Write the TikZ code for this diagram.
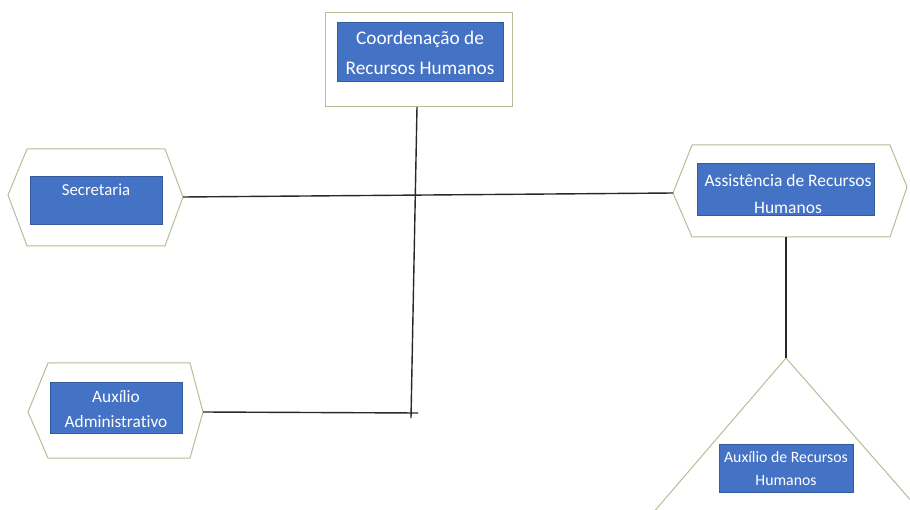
\documentclass[tikz,border=0pt]{standalone}
\usepackage{fontspec}
\setmainfont{Carlito}[Ligatures=CommonOff]
\definecolor{boxblue}{RGB}{68,114,196}
\definecolor{outline}{RGB}{178,192,150}
\definecolor{conn}{RGB}{40,40,40}
\begin{document}
\begin{tikzpicture}[x=1pt,y=-1pt,
  shell/.style={draw=outline,line width=1pt,fill=white},
  bluebox/.style={fill=boxblue,draw=boxblue!80!black,line width=0.3pt},
  lbl/.style={text=white,align=center,inner sep=0pt},
  link/.style={draw=conn,line width=1.4pt}]
\useasboundingbox (0,0) rectangle (910,510);
\clip (0,0) rectangle (910,510);
\fill[white] (0,0) rectangle (910,510);
% Coordenação
\draw[shell] (325,13) rectangle (512,107);
\fill[bluebox] (337,22) rectangle (503,81);
\node[lbl,font=\fontsize{19.3}{30}\selectfont] (coord) at (420,53) {Coordenação de\\Recursos Humanos};
% Secretaria
\draw[shell] (8,195) -- (27,149) -- (165,149) -- (183,197) -- (165,246) -- (27,246) -- cycle;
\fill[bluebox] (30,176) rectangle (162,224);
\node[lbl,font=\fontsize{16.8}{20}\selectfont] (sec) at (96,190) {Secretaria};
% Assistência
\draw[shell] (673,193) -- (692,145) -- (890,145) -- (907,187) -- (890,237) -- (692,237) -- cycle;
\fill[bluebox] (697,163) rectangle (874,215);
\node[lbl,font=\fontsize{17.5}{27}\selectfont] (assist) at (788,194) {Assistência de Recursos\\Humanos};
% Auxílio Administrativo
\draw[shell] (28,412) -- (48,363) -- (190,363) -- (203,412) -- (190,458) -- (48,458) -- cycle;
\fill[bluebox] (50,382) rectangle (182,433);
\node[lbl,font=\fontsize{17.3}{25}\selectfont] (auxadm) at (116,409) {Auxílio\\Administrativo};
% Auxílio de Recursos Humanos (triangle)
\draw[shell] (786,358) -- (640,528) -- (935,528) -- cycle;
\fill[bluebox] (719,444) rectangle (853,492);
\node[lbl,font=\fontsize{15.8}{23}\selectfont] (auxrh) at (786,469) {Auxílio de Recursos\\Humanos};
% connector endpoints
\coordinate (coordB) at (417,107);
\coordinate (vEnd) at (411,418);
\coordinate (secR) at (183,197);
\coordinate (assistL) at (673,193);
\coordinate (auxadmR) at (203,412);
\coordinate (hEnd) at (418,413);
\coordinate (assistB) at (786,237);
\coordinate (triTop) at (786,358);
% connectors
\draw[link] (coordB) -- (vEnd);
\draw[link] (secR) -- (assistL);
\draw[link] (auxadmR) -- (hEnd);
\draw[link] (assistB) -- (triTop);
\end{tikzpicture}
\end{document}
